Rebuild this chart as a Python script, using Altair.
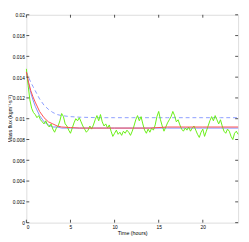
import altair as alt
import pandas as pd

# ---- data ----
green_step = 0.2
green_flux = [
    0.0148, 0.0132, 0.0118, 0.0110, 0.0106, 0.0104, 0.0101, 0.0103, 0.0099, 0.0097,
    0.0095, 0.0098, 0.0094, 0.0092, 0.0095, 0.0090, 0.0087, 0.0091, 0.0093, 0.0098,
    0.0105, 0.0102, 0.0095, 0.0093, 0.0089, 0.0086, 0.0091, 0.0096, 0.0100, 0.0098,
    0.0101, 0.0097, 0.0093, 0.0090, 0.0087, 0.0089, 0.0093, 0.0090, 0.0094, 0.0099,
    0.0103, 0.0098, 0.0104, 0.0097, 0.0093, 0.0095, 0.0091, 0.0094, 0.0088, 0.0083,
    0.0086, 0.0089, 0.0085, 0.0087, 0.0084, 0.0088, 0.0086, 0.0089, 0.0087, 0.0084,
    0.0088, 0.0093, 0.0099, 0.0103, 0.0098, 0.0102, 0.0095, 0.0089, 0.0086, 0.0090,
    0.0087, 0.0091, 0.0089, 0.0094, 0.0102, 0.0107, 0.0099, 0.0093, 0.0088, 0.0092,
    0.0096, 0.0099, 0.0102, 0.0107, 0.0103, 0.0097, 0.0099, 0.0094, 0.0090, 0.0088,
    0.0091, 0.0089, 0.0092, 0.0088, 0.0091, 0.0093, 0.0089, 0.0085, 0.0082, 0.0087,
    0.0090, 0.0083, 0.0088, 0.0093, 0.0098, 0.0102, 0.0098, 0.0103, 0.0099, 0.0095,
    0.0099, 0.0093, 0.0088, 0.0086, 0.0090, 0.0088, 0.0083, 0.0080, 0.0086, 0.0088,
    0.0085,
]
green_time = [round(i * green_step, 1) for i in range(len(green_flux))]

smooth_time = [0, 0.25, 0.5, 0.75, 1, 1.5, 2, 2.5, 3, 3.5, 4, 5, 6, 8, 10, 12, 14, 16, 18, 20, 22, 24]
red_flux = [0.0145, 0.0135, 0.0127, 0.0121, 0.0116, 0.0107, 0.0101, 0.0097, 0.0095, 0.0093,
            0.0092, 0.00915, 0.0091, 0.0091, 0.0091, 0.0091, 0.0091, 0.0092, 0.0092, 0.0092, 0.0092, 0.0092]
blue_flux = [0.0145, 0.0134, 0.0125, 0.0118, 0.0112, 0.0103, 0.0097, 0.0094, 0.0092, 0.0092,
             0.0091, 0.0091, 0.0091, 0.0091, 0.0091, 0.0091, 0.0091, 0.0091, 0.0091, 0.0091, 0.0091, 0.0091]
dashed_flux = [0.0145, 0.0140, 0.0135, 0.0131, 0.0127, 0.0119, 0.0113, 0.0109, 0.0106, 0.0104,
               0.0103, 0.0102, 0.01015, 0.0101, 0.0101, 0.0101, 0.0101, 0.0101, 0.0101, 0.0101, 0.0101, 0.0101]

x_ticks = [0, 5, 10, 15, 20]
y_ticks = [0, 0.002, 0.004, 0.006, 0.008, 0.01, 0.012, 0.014, 0.016, 0.018, 0.02]
y_title = ["Mass flux (kgm⁻¹s⁻²)"]

# ---- chart ----
W, H = 219, 215
FONT = "Liberation Sans"
xs = alt.Scale(domain=[0, 24], nice=False)
ys = alt.Scale(domain=[0, 0.02], nice=False)

green_df = pd.DataFrame({"t": green_time, "v": green_flux})
smooth_df = pd.DataFrame({"t": smooth_time, "red": red_flux, "blue": blue_flux, "dash": dashed_flux})
xt_df = pd.DataFrame({"t": x_ticks})
yt_df = pd.DataFrame({"v": y_ticks})
title_df = pd.DataFrame({"label": y_title})

x_axis = alt.Axis(values=x_ticks, ticks=False, domain=False, grid=False,
                  labelFontSize=5, labelPadding=2, labelFont=FONT, labelOverlap=False,
                  title="Time (hours)", titleFontSize=5.5, titleFontWeight="normal",
                  titleFont=FONT, titlePadding=1)
y_axis = alt.Axis(values=y_ticks, format="~g", ticks=False, domain=False, grid=False,
                  labelFontSize=5, labelPadding=2, labelFont=FONT, labelOverlap=False,
                  labelBound=False, labelFlush=False, title=None)


def X(field):
    return alt.X(field, type="quantitative", scale=xs, axis=x_axis)


def Y(field):
    return alt.Y(field, type="quantitative", scale=ys, axis=y_axis)


dashed = alt.Chart(smooth_df).mark_line(color="#8a9cff", strokeWidth=1, strokeDash=[4, 3]).encode(
    x=X("t"), y=Y("dash"))
blue = alt.Chart(smooth_df).mark_line(color="#7f8cff", strokeWidth=1).encode(
    x=X("t"), y=Y("blue"))
green = alt.Chart(green_df).mark_line(color="#66ee11", strokeWidth=1).encode(
    x=X("t"), y=Y("v"))
red = alt.Chart(smooth_df).mark_line(color="#ff4d4d", strokeWidth=1).encode(
    x=X("t"), y=Y("red"))

tick_len = 3
xb = alt.Chart(xt_df).mark_rule(color="#222", strokeWidth=0.8).encode(
    x=X("t"), y=alt.value(H), y2=alt.value(H - tick_len))
xtop = alt.Chart(xt_df).mark_rule(color="#222", strokeWidth=0.8).encode(
    x=X("t"), y=alt.value(0), y2=alt.value(tick_len))
yl = alt.Chart(yt_df).mark_rule(color="#222", strokeWidth=0.8).encode(
    y=Y("v"), x=alt.value(0), x2=alt.value(tick_len))
yr = alt.Chart(yt_df).mark_rule(color="#222", strokeWidth=0.8).encode(
    y=Y("v"), x=alt.value(W - tick_len), x2=alt.value(W))

ytitle = alt.Chart(title_df).mark_text(
    angle=270, fontSize=5.5, font=FONT, color="black", align="center", baseline="middle"
).encode(x=alt.value(-16.5), y=alt.value(H / 2), text="label:N")

chart = alt.layer(dashed, blue, green, red, xb, xtop, yl, yr, ytitle).properties(
    width=W, height=H,
    autosize=alt.AutoSizeParams(type="none"),
    padding={"left": 19, "top": 3, "right": 3, "bottom": 16},
).configure_view(stroke="#222", strokeWidth=1).configure(background="white")

chart.save("out.html", embed_options={"renderer": "svg", "actions": False})
